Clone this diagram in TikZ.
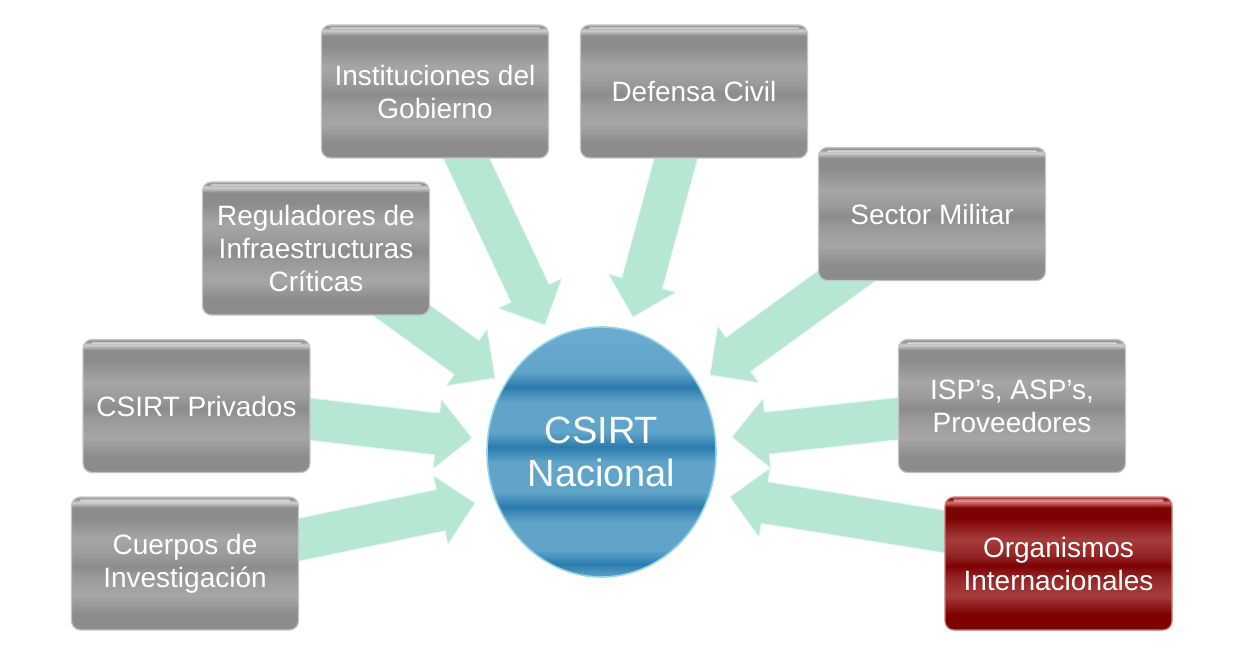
\documentclass[tikz,border=0pt]{standalone}
\usepackage{fontspec}
\setmainfont{Liberation Sans}
\usetikzlibrary{calc,shapes.geometric}
\definecolor{mint}{RGB}{182,231,211}
\definecolor{mintedge}{RGB}{228,247,239}
\definecolor{gA}{RGB}{140,140,140}
\definecolor{gB}{RGB}{166,166,166}
\definecolor{gC}{RGB}{154,154,154}
\definecolor{gH}{RGB}{208,208,208}
\definecolor{gT}{RGB}{176,176,176}
\definecolor{gEdge}{RGB}{196,196,196}
\definecolor{rA}{RGB}{125,2,2}
\definecolor{rB}{RGB}{166,60,60}
\definecolor{rC}{RGB}{148,36,36}
\definecolor{rH}{RGB}{214,110,110}
\definecolor{rEdge}{RGB}{205,120,120}
\definecolor{bA}{RGB}{42,124,174}
\definecolor{bB}{RGB}{96,164,201}
\definecolor{bT}{RGB}{108,172,208}
\definecolor{bEdge}{RGB}{150,212,236}
\pgfdeclareverticalshading{grayglass}{100bp}{color(0bp)=(gA); color(25bp)=(gA); color(31bp)=(gA); color(38bp)=(gB); color(45bp)=(gC); color(49bp)=(gA); color(53bp)=(gC); color(59bp)=(gB); color(67bp)=(gA); color(71bp)=(gA); color(73bp)=(gH); color(74.3bp)=(gA); color(75bp)=(gT); color(100bp)=(gT)}
\pgfdeclareverticalshading{redglass}{100bp}{color(0bp)=(rA); color(25bp)=(rA); color(31bp)=(rA); color(38bp)=(rB); color(45bp)=(rC); color(49bp)=(rA); color(53bp)=(rC); color(59bp)=(rB); color(67bp)=(rA); color(71bp)=(rA); color(73bp)=(rH); color(74.3bp)=(rA); color(75bp)=(rH); color(100bp)=(rH)}
\pgfdeclareverticalshading{blueglass}{100bp}{color(0bp)=(bB); color(25bp)=(bB); color(27.5bp)=(bA); color(30.5bp)=(bB); color(36bp)=(bB); color(39bp)=(bA); color(42bp)=(bB); color(48bp)=(bB); color(51bp)=(bA); color(54bp)=(bB); color(60bp)=(bB); color(63bp)=(bA); color(66bp)=(bB); color(75bp)=(bT); color(100bp)=(bT)}
\newcommand\blockarr[2]{%
  \coordinate (H) at ($(#2)!35pt!(#1)$);
  \filldraw[fill=mint, draw=mintedge, line width=0.8pt, line join=round]
    ($(#1)!21pt!90:(#2)$) -- ($(H)!21pt!-90:(#1)$) -- ($(H)!35pt!-90:(#1)$) -- (#2)
    -- ($(H)!35pt!90:(#1)$) -- ($(H)!21pt!90:(#1)$) -- ($(#1)!21pt!-90:(#2)$) -- cycle;
}
\tikzset{
  box/.style={rectangle, rounded corners=9pt, minimum width=227pt, minimum height=133pt,
    shade, shading=grayglass, draw=gEdge, line width=1.2pt, text=white,
    font=\fontsize{28}{33}\selectfont, align=center, inner sep=0pt},
  redbox/.style={box, shading=redglass, draw=rEdge},
  hub/.style={ellipse, minimum width=229pt, minimum height=250pt, inner sep=0pt,
    shade, shading=blueglass, draw=bEdge, line width=1.6pt, text=white,
    font=\fontsize{38}{43}\selectfont, align=center},
  gloss/.style={white, opacity=0.45, line width=2.2pt, line cap=round}
}
\begin{document}
\begin{tikzpicture}[x=1pt, y=-1pt]
\useasboundingbox[fill=white] (0,0) rectangle (1240,658);
% anchor coordinates of the arrows
\coordinate (s1) at (435,91.5);
\coordinate (s2) at (694,91.5);
\coordinate (s3) at (316,248.5);
\coordinate (s4) at (932,214);
\coordinate (s5) at (196.5,406);
\coordinate (s6) at (185,563.5);
\coordinate (s7) at (1012,406);
\coordinate (s8) at (1058.5,550);
\coordinate (t1) at (545,325);
\coordinate (t2) at (633,317);
\coordinate (t3) at (495,378);
\coordinate (t4) at (710,375);
\coordinate (t5) at (472,438);
\coordinate (t6) at (475,503);
\coordinate (t7) at (732,437);
\coordinate (t8) at (730,497);
% arrows
\blockarr{s1}{t1}
\blockarr{s2}{t2}
\blockarr{s3}{t3}
\blockarr{s4}{t4}
\blockarr{s5}{t5}
\blockarr{s6}{t6}
\blockarr{s7}{t7}
\blockarr{s8}{t8}
% boxes
\node[box] (inst) at (435,91.5) {Instituciones del\\Gobierno};
\node[box] (def) at (694,91.5) {Defensa Civil};
\node[box] (reg) at (316,248.5) {Reguladores de\\Infraestructuras\\Críticas};
\node[box] (mil) at (932,214) {Sector Militar};
\node[box] (priv) at (196.5,406) {CSIRT Privados};
\node[box] (cue) at (185,563.5) {Cuerpos de\\Investigación};
\node[box] (isp) at (1012,406) {ISP’s, ASP’s,\\Proveedores};
\node[redbox] (org) at (1058.5,563.5) {Organismos\\Internacionales};
\foreach \b in {inst,def,reg,mil,priv,cue,isp,org}{
  \draw[gloss] ($(\b.north west)+(10,4)$) -- ($(\b.north east)+(-10,4)$);
}
% hub
\node[hub] (hub) at (601.5,452) {CSIRT\\Nacional};
\end{tikzpicture}
\end{document}
